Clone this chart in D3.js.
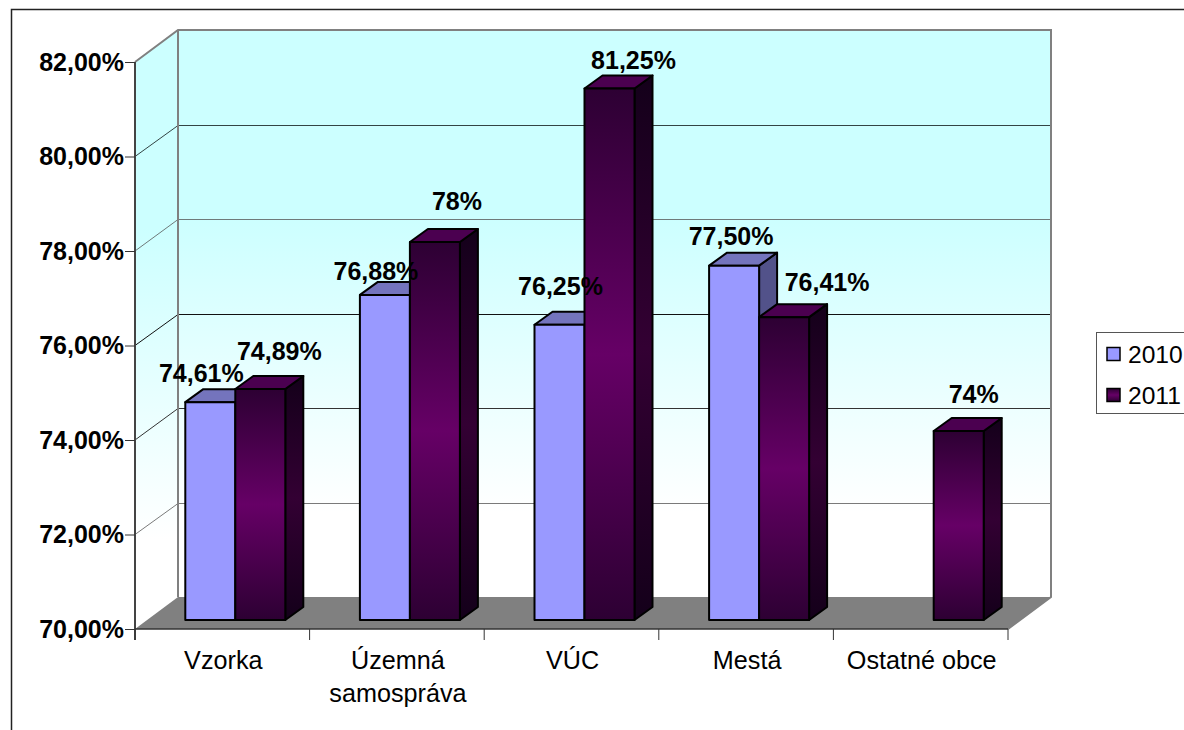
<!DOCTYPE html>
<html><head><meta charset="utf-8">
<script src="https://cdnjs.cloudflare.com/ajax/libs/d3/7.8.5/d3.min.js"></script>
<style>html,body{margin:0;padding:0;background:#fff}svg{display:block}text{font-family:"Liberation Sans",Arial,sans-serif;fill:#000}</style>
</head><body><svg id="c" width="1184" height="730"></svg>
<script>
const categories = ["Vzorka", "Územná samospráva", "VÚC", "Mestá", "Ostatné obce"];
const categoryLines = [["Vzorka"], ["Územná", "samospráva"], ["VÚC"], ["Mestá"], ["Ostatné obce"]];
const seriesNames = ["2010", "2011"];
const values2010 = [74.61, 76.88, 76.25, 77.50, null];
const values2011 = [74.89, 78, 81.25, 76.41, 74];
const labels2010 = ["74,61%", "76,88%", "76,25%", "77,50%", null];
const labels2011 = ["74,89%", "78%", "81,25%", "76,41%", "74%"];
const yTicks = [70, 72, 74, 76, 78, 80, 82];

// layout
const svg = d3.select("#c");
const wall = {dx: 43, dy: -32}, barFront = {dx: 13, dy: -9}, barDepth = {dx: 18, dy: -13};
const y = d3.scaleLinear().domain([70, 82]).range([629, 62]);
const x = d3.scaleBand().domain(categories).range([135, 1008]);
const barW = 50;
const labelShift2010 = [[-9, -29], [-9, -24], [1, -39], [-3, -30]];
const labelShift2011 = [[19, -38], [22, -41], [24, -28], [43, -35], [15, -37]];
const gridColor = {72: "#7a7a7a", 74: "#333333", 76: "#111111", 78: "#6f7a7a", 80: "#334444"};
const x0 = x.range()[0], x1 = x.range()[1], yB = y(70), yT = y(82);

const defs = svg.append("defs");
const lg = (id, stops) => {
  const g = defs.append("linearGradient").attr("id", id).attr("x1", 0).attr("x2", 0).attr("y1", 0).attr("y2", 1);
  stops.forEach(s => g.append("stop").attr("offset", s[0]).attr("stop-color", s[1]));
};
lg("wallG", [[0, "#ccffff"], [0.33, "#ccffff"], [0.85, "#ffffff"], [1, "#ffffff"]]);
lg("front", [[0, "#2d0033"], [0.5, "#660066"], [1, "#2d0033"]]);
lg("side", [[0, "#14001a"], [0.5, "#330033"], [1, "#14001a"]]);
lg("leg", [[0, "#2d0033"], [0.5, "#660066"], [1, "#2d0033"]]);

// outer chart frame (only left and top visible)
svg.append("path").attr("d", "M11.5,730V9.5H1184").attr("fill", "none").attr("stroke", "#222").attr("stroke-width", 1.5);

const pts = a => a.map(p => p.join(",")).join(" ");
// walls
svg.append("rect").attr("x", x0 + wall.dx).attr("y", yT + wall.dy).attr("width", x1 - x0).attr("height", yB - yT).attr("fill", "url(#wallG)");
svg.append("polygon").attr("fill", "url(#wallG)").attr("points", pts([[x0, yT], [x0 + wall.dx, yT + wall.dy], [x0 + wall.dx, yB + wall.dy], [x0, yB]]));
// floor
svg.append("polygon").attr("fill", "#808080").attr("points", pts([[x0, yB], [x0 + wall.dx, yB + wall.dy], [x1 + wall.dx, yB + wall.dy], [x1, yB]]));
// gridlines
svg.append("g").selectAll("path").data(yTicks.slice(1, -1)).join("path")
  .attr("fill", "none").attr("stroke", t => gridColor[t]).attr("stroke-width", 1)
  .attr("d", t => `M${x0},${y(t)}L${x0 + wall.dx},${Math.round(y(t) + wall.dy) + .5}H${x1 + wall.dx}`);
// wall frame
svg.append("path").attr("fill", "none").attr("stroke", "#808080").attr("stroke-width", 2)
  .attr("d", `M${x0},${yT}L${x0 + wall.dx},${yT + wall.dy}H${x1 + wall.dx}V${yB + wall.dy}L${x1},${yB}M${x0 + wall.dx},${yT + wall.dy}V${yB + wall.dy}`);

// axes
const axL = d3.axisLeft(y).tickValues(yTicks).tickSize(10).tickPadding(1).tickFormat(d => d3.format(".2f")(d).replace(".", ",") + "%");
const gL = svg.append("g").attr("transform", `translate(${x0},0)`).call(axL);
gL.select(".domain").attr("stroke", "#444").attr("stroke-width", 2).attr("d", `M0,${yT}V${yB + 11}`);
gL.selectAll(".tick line").attr("stroke", "#333");
gL.selectAll(".tick text").attr("font-size", 25).attr("font-weight", "bold").attr("font-family", '"Liberation Sans"').attr("fill", "#000");

svg.append("path").attr("stroke", "#333").attr("stroke-width", 1.5).attr("fill", "none").attr("d", `M${x0},${yB}H${x1}`);
svg.append("g").selectAll("line").data(categories.map(c => x(c)).concat([x1])).join("line")
  .attr("x1", d => d).attr("x2", d => d).attr("y1", yB).attr("y2", yB + 11).attr("stroke", "#333");
const cat = svg.append("g").selectAll("text").data(categories).join("text")
  .attr("text-anchor", "middle").attr("font-size", 25.2)
  .attr("transform", c => `translate(${x(c) + x.bandwidth() / 2 + 1},669)`);
cat.selectAll("tspan").data((c, i) => categoryLines[i]).join("tspan")
  .attr("x", 0).attr("dy", (d, i) => i ? 33 : 0).text(d => d);

// bars
const drawBar = (left, v, cols) => {
  const xa = left + barFront.dx, xb = xa + barW, yt = y(v) + barFront.dy, yb = yB + barFront.dy;
  const g = svg.append("g").attr("stroke", "#000").attr("stroke-width", 2).attr("stroke-linejoin", "round");
  g.append("polygon").attr("fill", cols.side).attr("points", pts([[xb, yt], [xb + barDepth.dx, yt + barDepth.dy], [xb + barDepth.dx, yb + barDepth.dy], [xb, yb]]));
  g.append("polygon").attr("fill", cols.top).attr("points", pts([[xa, yt], [xa + barDepth.dx, yt + barDepth.dy], [xb + barDepth.dx, yt + barDepth.dy], [xb, yt]]));
  g.append("rect").attr("x", xa).attr("y", yt).attr("width", barW).attr("height", yb - yt).attr("fill", cols.front);
};
const colors = [
  {front: "#9999ff", top: "#7474bd", side: "#52528a"},
  {front: "url(#front)", top: "#4b0050", side: "url(#side)"}
];
const labelsLayer = [];
categories.forEach((c, i) => {
  const mid = x(c) + x.bandwidth() / 2;
  if (values2010[i] != null) {
    drawBar(mid - barW, values2010[i], colors[0]);
    labelsLayer.push({t: labels2010[i], x: mid + barFront.dx - barW / 2 + labelShift2010[i][0], y: y(values2010[i]) + barFront.dy + labelShift2010[i][1]});
  }
  if (values2011[i] != null) {
    drawBar(mid, values2011[i], colors[1]);
    labelsLayer.push({t: labels2011[i], x: mid + barFront.dx + barW / 2 + labelShift2011[i][0], y: y(values2011[i]) + barFront.dy + labelShift2011[i][1]});
  }
});
svg.append("g").selectAll("text").data(labelsLayer).join("text")
  .attr("text-anchor", "middle").attr("dominant-baseline", "central").attr("font-size", 25).attr("font-weight", "bold")
  .attr("x", d => d.x).attr("y", d => d.y).text(d => d.t);

// legend
svg.append("rect").attr("x", 1096.5).attr("y", 332.5).attr("width", 100).attr("height", 81).attr("fill", "#fff").attr("stroke", "#555");
const lgd = svg.append("g").selectAll("g").data(seriesNames).join("g").attr("transform", (d, i) => `translate(0,${354 + i * 41})`);
lgd.append("rect").attr("x", 1107).attr("y", -6.5).attr("width", 13).attr("height", 13)
  .attr("fill", (d, i) => i ? "url(#leg)" : "#9999ff").attr("stroke", "#000").attr("stroke-width", 1.5);
lgd.append("text").attr("x", 1128).attr("y", 0).attr("dominant-baseline", "central").attr("font-size", 24.6).text(d => d);
</script></body></html>
